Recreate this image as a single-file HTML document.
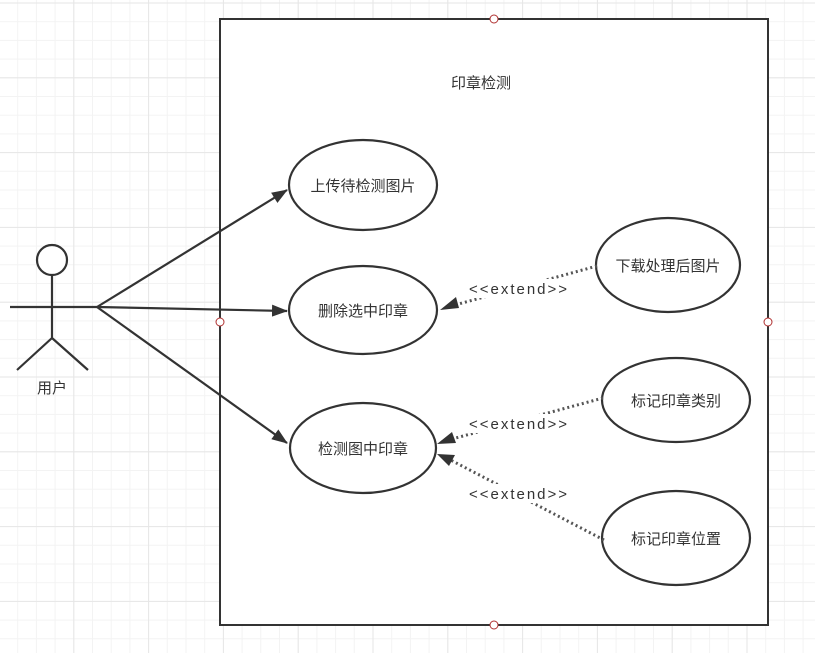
<!DOCTYPE html>
<html><head><meta charset="utf-8"><style>
html,body{margin:0;padding:0;background:#fff;}
svg{display:block;font-family:"Liberation Sans","Noto Sans CJK SC",sans-serif;}
</style></head><body>
<svg width="815" height="653" viewBox="0 0 815 653" xmlns="http://www.w3.org/2000/svg">
<defs>
<pattern id="g" x="-1.5" y="2.5" width="18.7" height="18.7" patternUnits="userSpaceOnUse">
<path d="M0 0.5H18.7M0.5 0V18.7" stroke="#f3f3f3" stroke-width="1" fill="none"/>
</pattern>
<pattern id="G" x="-1.5" y="2.5" width="74.8" height="74.8" patternUnits="userSpaceOnUse">
<path d="M0 0.5H74.8M0.5 0V74.8" stroke="#e6e6e6" stroke-width="1" fill="none"/>
</pattern>
<marker id="a" viewBox="0 0 16 12" refX="15" refY="6" markerWidth="16" markerHeight="12" orient="auto" markerUnits="userSpaceOnUse">
<path d="M0 0L16 6L0 12Z" fill="#333"/>
</marker>
</defs>
<rect width="815" height="653" fill="#fff"/>
<rect width="815" height="653" fill="url(#g)"/>
<rect width="815" height="653" fill="url(#G)"/>
<rect x="220" y="19" width="548" height="606" fill="#fff" stroke="#333" stroke-width="2"/>
<text x="481" y="88" font-size="15" text-anchor="middle" fill="#333">印章检测</text>
<g fill="#fff" stroke="#333" stroke-width="2.2">
<ellipse cx="363" cy="185" rx="74" ry="45"/>
<ellipse cx="363" cy="310" rx="74" ry="44"/>
<ellipse cx="363" cy="448" rx="73" ry="45"/>
<ellipse cx="668" cy="265" rx="72" ry="47"/>
<ellipse cx="676" cy="400" rx="74" ry="42"/>
<ellipse cx="676" cy="538" rx="74" ry="47"/>
</g>
<g font-size="15" text-anchor="middle" fill="#333">
<text x="363" y="191">上传待检测图片</text>
<text x="363" y="316">删除选中印章</text>
<text x="363" y="454">检测图中印章</text>
<text x="668" y="271">下载处理后图片</text>
<text x="676" y="406">标记印章类别</text>
<text x="676" y="544">标记印章位置</text>
</g>
<g stroke="#333" stroke-width="2.2" fill="none">
<circle cx="52" cy="260" r="15" fill="#fff"/>
<path d="M52 275V338M10 307H97M52 338L17 370M52 338L88 370"/>
<path d="M97 307L287 190" marker-end="url(#a)"/>
<path d="M97 307L287 311" marker-end="url(#a)"/>
<path d="M97 307L287 443" marker-end="url(#a)"/>
</g>
<text x="52" y="393" font-size="15" text-anchor="middle" fill="#333">用户</text>
<g stroke="#555" stroke-width="3" stroke-dasharray="2 3" fill="none">
<path d="M597 266L444 308"/>
<path d="M603 398L441 442"/>
<path d="M604 540L441 455"/>
</g>
<g fill="#333">
<path d="M440 310L456 297L459 308Z"/>
<path d="M437 444L452 432L456 443Z"/>
<path d="M437 454L455 455L449 466Z"/>
</g>
<g font-size="15" text-anchor="middle" fill="#333" letter-spacing="2">
<rect x="466" y="279" width="106" height="19" fill="#fff"/>
<text x="519" y="294">&lt;&lt;extend&gt;&gt;</text>
<rect x="466" y="414" width="106" height="19" fill="#fff"/>
<text x="519" y="429">&lt;&lt;extend&gt;&gt;</text>
<rect x="466" y="484" width="106" height="19" fill="#fff"/>
<text x="519" y="499">&lt;&lt;extend&gt;&gt;</text>
</g>
<g fill="#fff" stroke="#b03030" stroke-width="1">
<circle cx="494" cy="19" r="4"/>
<circle cx="220" cy="322" r="4"/>
<circle cx="768" cy="322" r="4"/>
<circle cx="494" cy="625" r="4"/>
</g>
</svg>
</body></html>
